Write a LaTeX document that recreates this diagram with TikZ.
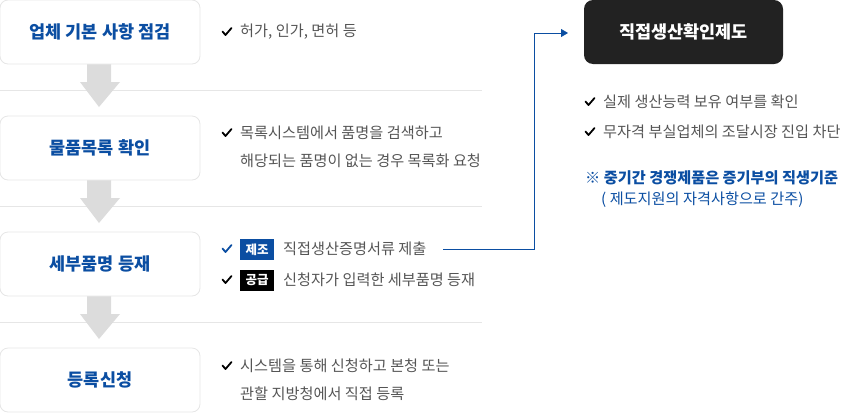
\documentclass[tikz,border=0pt]{standalone}
\usepackage{fontspec}
\setmainfont{Noto Sans CJK KR}
\usetikzlibrary{arrows.meta}
\definecolor{kblue}{HTML}{0B4EA2}
\definecolor{kgray}{HTML}{555555}
\definecolor{kline}{HTML}{E6E6E6}
\definecolor{karrow}{HTML}{DCDCDC}
\definecolor{kdark}{HTML}{222222}
\tikzset{
  stepbox/.style={draw=kline, line width=0.8pt, fill=white, rounded corners=8pt, minimum width=200pt, minimum height=64pt, inner sep=0pt, font=\fontsize{17.5}{20}\selectfont\bfseries, text=kblue},
  darkbox/.style={fill=kdark, rounded corners=9pt, minimum width=199pt, minimum height=64pt, inner sep=0pt, font=\fontsize{17.5}{20}\selectfont\bfseries, text=white},
  body/.style={anchor=west, inner sep=0pt, font=\fontsize{15.2}{17}\selectfont, text=kgray},
  badge/.style={anchor=west, inner sep=0pt, minimum width=34pt, minimum height=21pt, font=\fontsize{12.5}{14}\selectfont\bfseries, text=white},
  sep/.style={draw=kline, line width=0.8pt},
  flowarrow/.style={fill=karrow, draw=none},
  conn/.style={draw=kblue, line width=0.8pt, -{Triangle[length=7pt,width=8pt]}},
}
\newcommand{\chk}[2][black]{\draw[#1, line width=1.8pt, line cap=round, line join=round] (#2) ++(-4.5,-0.5) -- ++(3,3.5) -- ++(6,-7);}
\begin{document}
\begin{tikzpicture}[x=1pt,y=-1pt]
\useasboundingbox (0,0) rectangle (843,413);
% separators
\draw[sep] (0,90) -- (482,90);
\draw[sep] (0,206) -- (482,206);
\draw[sep] (0,322) -- (482,322);
% flow arrows
\foreach \t/\b in {64/107, 180/223, 296/339}{
  \fill[flowarrow] (87,\t) -- (111,\t) -- (111,\b-25) -- (120,\b-25) -- (99,\b) -- (80,\b-25) -- (87,\b-25) -- cycle;
}
% boxes
\node[stepbox] (b1) at (100,32) {업체 기본 사항 점검};
\node[stepbox] (b2) at (100,148) {물품목록 확인};
\node[stepbox] (b3) at (100,264) {세부품명 등재};
\node[stepbox] (b4) at (100,380) {등록신청};
% texts
\coordinate (c1) at (227,32); \chk{c1}
\node[body] (t1) at (240,32) {허가, 인가, 면허 등};
\coordinate (c2) at (227,133); \chk{c2}
\node[body] (t2a) at (240,133) {목록시스템에서 품명을 검색하고};
\node[body] (t2b) at (240,161) {해당되는 품명이 없는 경우 목록화 요청};
\coordinate (c3) at (227,249); \chk[kblue]{c3}
\node[badge, fill=kblue] (g1) at (240,249.5) {제조};
\node[body] (t3a) at (283,249) {직접생산증명서류 제출};
\coordinate (c4) at (227,280); \chk{c4}
\node[badge, fill=black] (g2) at (240,280) {공급};
\node[body] (t3b) at (283,280) {신청자가 입력한 세부품명 등재};
\coordinate (c5) at (227,366); \chk{c5}
\node[body] (t4a) at (240,366) {시스템을 통해 신청하고 본청 또는};
\node[body] (t4b) at (240,394) {관할 지방청에서 직접 등록};
% right
\node[darkbox] (dk) at (683.5,32) {직접생산확인제도};
\coordinate (s) at (443,249);
\coordinate (corner) at (534,249);
\coordinate (e) at (568,33);
\draw[conn] (s) -- (corner) |- (e);
\coordinate (c6) at (590,102); \chk{c6}
\node[body] (r1) at (603,102) {실제 생산능력 보유 여부를 확인};
\coordinate (c7) at (590,132); \chk{c7}
\node[body] (r2) at (603,132) {무자격 부실업체의 조달시장 진입 차단};
\node[body, text=kblue, font=\fontsize{15.2}{17}\selectfont\bfseries] (r3) at (585,178) {※ 중기간 경쟁제품은 증기부의 직생기준};
\node[body, text=kblue] (r4) at (601,200) {( 제도지원의 자격사항으로 간주)};
\end{tikzpicture}
\end{document}
